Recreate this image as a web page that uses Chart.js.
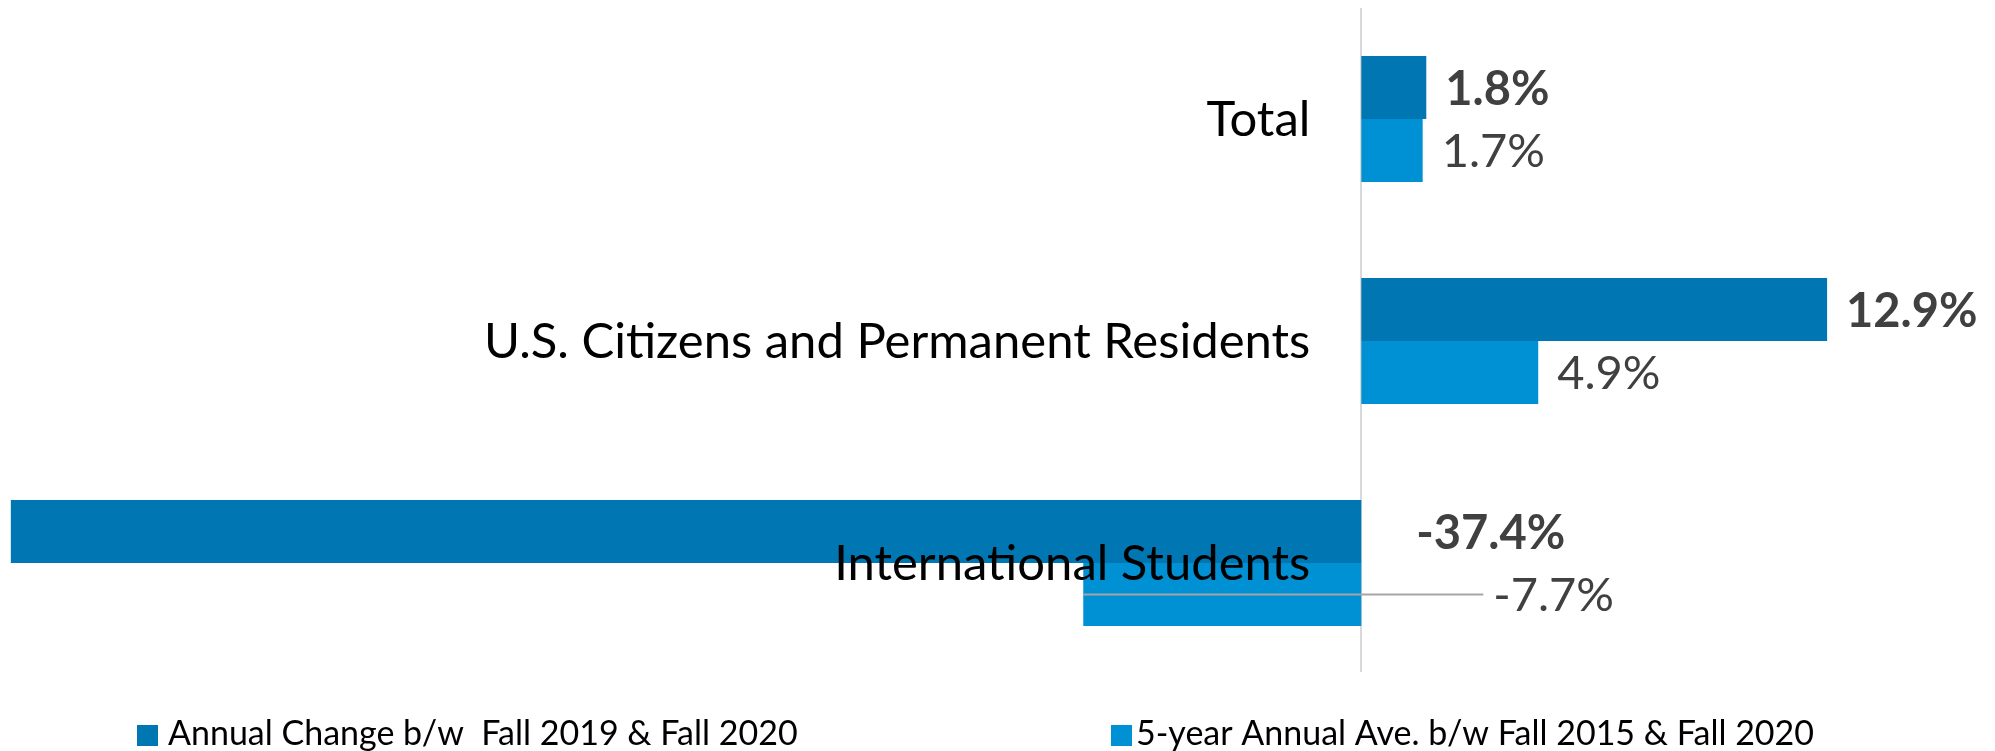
<!DOCTYPE html>
<html>
<head>
<meta charset="utf-8">
<title>Enrollment change</title>
<script src="https://cdn.jsdelivr.net/npm/chart.js@4.4.1/dist/chart.umd.min.js"></script>
<style>
    body { margin: 0; background: #fff; }
    #wrap { position: relative; width: 1995px; height: 751px; }
</style>
</head>
<body>
<div id="wrap"><canvas id="enrollChart"></canvas></div>
<script>
const categories = ["Total", "U.S. Citizens and Permanent Residents", "International Students"];
const annualChange = [1.8, 12.9, -37.4];
const fiveYearAvg = [1.7, 4.9, -7.7];
const seriesNames = ["Annual Change b/w  Fall 2019 & Fall 2020", "5-year Annual Ave. b/w Fall 2015 & Fall 2020"];

const FONT = "Lato, 'Open Sans', sans-serif";
const darkBlue = "#0076B3";
const lightBlue = "#0091D5";

// thin grey line at 0%
const zeroLine = {
    id: "zeroLine",
    beforeDatasetsDraw(chart) {
        const { ctx, chartArea, scales } = chart;
        const x0 = Math.round(scales.x.getPixelForValue(0));
        ctx.save();
        ctx.strokeStyle = "#d9d9d9";
        ctx.lineWidth = 2;
        ctx.beginPath();
        ctx.moveTo(x0, chartArea.top);
        ctx.lineTo(x0, chartArea.bottom - 2);
        ctx.stroke();
        ctx.restore();
    }
};

const barLabels = {
    id: "barLabels",
    afterDatasetsDraw(chart) {
        const { ctx, scales } = chart;
        const x0 = scales.x.getPixelForValue(0);
        ctx.save();
        ctx.textBaseline = "alphabetic";

        // category names sit left of the axis, over the bars
        ctx.font = `49px ${FONT}`;
        ctx.fillStyle = "#000";
        ctx.textAlign = "right";
        categories.forEach((name, i) => {
            const y = scales.y.getPixelForValue(i);
            ctx.fillText(name, x0 - 51, y + 17);
        });

        chart.data.datasets.forEach((ds, di) => {
            const meta = chart.getDatasetMeta(di);
            ctx.font = `${di === 0 ? "bold " : ""}47px ${FONT}`;
            meta.data.forEach((bar, i) => {
                const v = ds.data[i];
                let x;
                if (v >= 0) {
                    x = bar.x + 19;
                } else {
                    // negative labels were moved to the right of the axis
                    x = x0 + (di === 0 ? 55 : 132);
                    if (di === 1) {
                        ctx.strokeStyle = "#a6a6a6";
                        ctx.lineWidth = 2;
                        ctx.beginPath();
                        ctx.moveTo(bar.x, bar.y);
                        ctx.lineTo(x - 10, bar.y);
                        ctx.stroke();
                    }
                }
                ctx.fillStyle = "#404040";
                ctx.textAlign = "left";
                ctx.fillText(v.toFixed(1) + "%", x, bar.y + 17);
            });
        });
        ctx.restore();
    }
};

const bottomLegend = {
    id: "bottomLegend",
    afterDraw(chart) {
        const { ctx } = chart;
        const boxX = [137, 1111];
        const textX = [168, 1136];
        ctx.save();
        ctx.font = `34px ${FONT}`;
        ctx.textAlign = "left";
        ctx.textBaseline = "alphabetic";
        chart.data.datasets.forEach((ds, di) => {
            ctx.fillStyle = ds.backgroundColor;
            ctx.fillRect(boxX[di], 725, 21, 21);
            ctx.fillStyle = "#000";
            ctx.fillText(ds.label, textX[di], 745);
        });
        ctx.restore();
    }
};

const ctx = document.getElementById("enrollChart").getContext("2d");
const enrollChart = new Chart(ctx, {
    type: "bar",
    data: {
        labels: categories,
        datasets: [
            { label: seriesNames[0], data: annualChange, backgroundColor: darkBlue },
            { label: seriesNames[1], data: fiveYearAvg, backgroundColor: lightBlue }
        ]
    },
    options: {
        indexAxis: "y",
        responsive: true,
        maintainAspectRatio: false,
        animation: false,
        layout: { padding: { top: 8, bottom: 77, left: 0, right: 0 } },
        datasets: { bar: { barPercentage: 1, categoryPercentage: 0.567 } },
        scales: {
            x: { min: -37.7, max: 17.55, display: false },
            y: { display: false }
        },
        plugins: {
            legend: { display: false },
            tooltip: { enabled: false }
        }
    },
    plugins: [zeroLine, barLabels, bottomLegend]
});
</script>
</body>
</html>
